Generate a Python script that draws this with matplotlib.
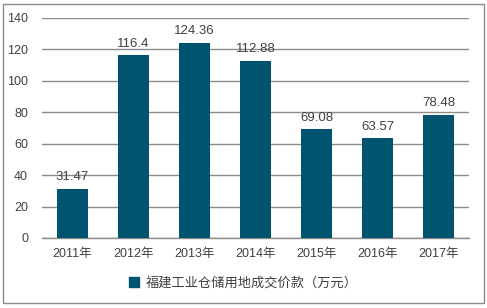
import matplotlib
matplotlib.use("Agg")
import matplotlib.pyplot as plt
from matplotlib.patches import Rectangle, Patch

plt.rcParams['font.family'] = ['Liberation Sans', 'Noto Sans CJK SC', 'DejaVu Sans']

categories = ["2011年", "2012年", "2013年", "2014年", "2015年", "2016年", "2017年"]
values = [31.47, 116.4, 124.36, 112.88, 69.08, 63.57, 78.48]
labels = ["31.47", "116.4", "124.36", "112.88", "69.08", "63.57", "78.48"]
series_name = "福建工业仓储用地成交价款（万元）"
yticks = [0, 20, 40, 60, 80, 100, 120, 140]

bar_color = "#005470"
text_color = "#404040"
grid_color = "#8c8c8c"

W, H = 487, 308
fig = plt.figure(figsize=(W / 100, H / 100), dpi=100)
fig.patch.set_facecolor("white")
fig.add_artist(Rectangle((3 / W, 1 - 303 / H), 481 / W, 299 / H, transform=fig.transFigure,
                         fill=False, edgecolor="#8c8c8c", linewidth=1))

ax = fig.add_axes([42 / W, 1 - 238 / H, 427 / W, 220 / H])
x = list(range(len(categories)))
ax.bar(x, values, width=0.5, color=bar_color, zorder=3)
ax.set_xlim(-0.5, len(categories) - 0.5)
ax.set_ylim(0, 140)
ax.set_yticks(yticks)
ax.set_xticks(x)
ax.set_xticklabels(categories)
ax.tick_params(axis='both', length=0, labelsize=9, colors=text_color)
ax.tick_params(axis='y', pad=10)
ax.tick_params(axis='x', pad=7)
ax.yaxis.grid(True, color=grid_color, linewidth=1, zorder=0)
for s in ['top', 'right', 'left']:
    ax.spines[s].set_visible(False)
ax.spines['bottom'].set_color(grid_color)
ax.spines['bottom'].set_linewidth(1)

for xi, v, lab in zip(x, values, labels):
    ax.annotate(lab, (xi, v), xytext=(0, 4), textcoords='offset points',
                ha='center', va='bottom', fontsize=9.5, color=text_color, zorder=4)

handle = Patch(facecolor=bar_color, edgecolor=bar_color)
fig.legend([handle], [series_name], loc='center', bbox_to_anchor=(0.5, 1 - 283 / H),
           frameon=False, fontsize=9.5, handlelength=0.75, handleheight=0.75,
           handletextpad=0.5, labelcolor=text_color)

fig.savefig("out.png", dpi=100)
